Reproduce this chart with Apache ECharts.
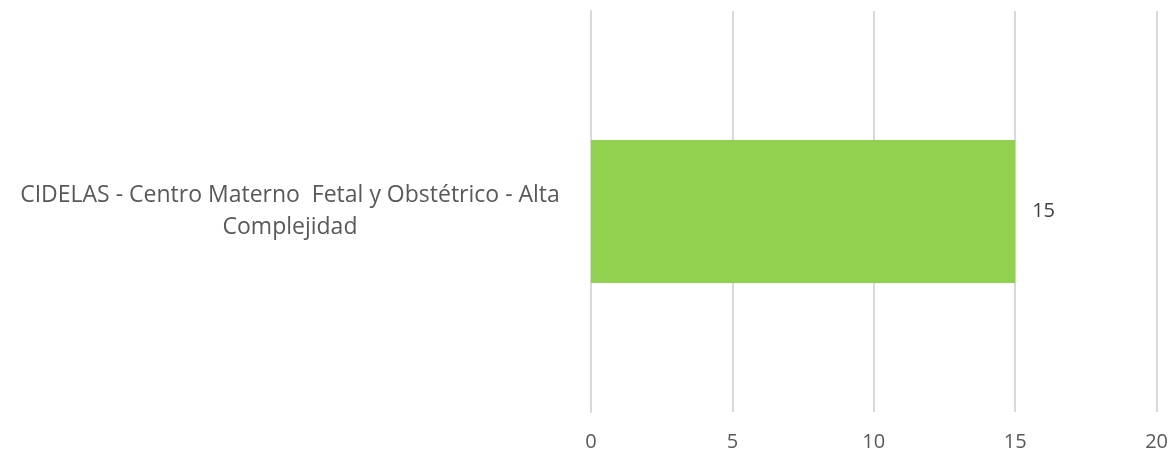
<!DOCTYPE html>
<html><head><meta charset="utf-8">
<script src="https://cdn.jsdelivr.net/npm/echarts@6/dist/echarts.min.js"></script>
<style>html,body{margin:0;padding:0;background:#fff}#c{width:1171px;height:454px}</style>
</head><body><div id="c"></div>
<script>
const categories = ["CIDELAS - Centro Materno  Fetal y Obstétrico - Alta\nComplejidad"];
const values = [15];
const xTicks = [0, 5, 10, 15, 20];

const chart = echarts.init(document.getElementById('c'), null, {renderer: 'canvas'});
const font = "'Open Sans', 'Liberation Sans', sans-serif";
chart.setOption({
  animation: false,
  grid: {left: 591, right: 14, top: 11, bottom: 42, containLabel: false},
  xAxis: {
    type: 'value', min: xTicks[0], max: xTicks[xTicks.length - 1], interval: 5,
    axisLine: {show: false}, axisTick: {show: false},
    splitLine: {lineStyle: {color: '#d9d9d9', width: 2}},
    axisLabel: {color: '#595959', fontSize: 20, fontFamily: font, margin: 20}
  },
  yAxis: {
    type: 'category', data: categories,
    axisLine: {show: true, lineStyle: {color: '#d9d9d9', width: 2}}, axisTick: {show: false},
    axisLabel: {color: '#595959', fontSize: 23, fontFamily: font, align: 'center', margin: 301, lineHeight: 32}
  },
  series: [{
    type: 'bar', data: values, barWidth: 143,
    itemStyle: {color: '#92D050'},
    label: {show: true, position: 'right', distance: 17, color: '#404040', fontSize: 20, fontFamily: font}
  }]
});
</script></body></html>
